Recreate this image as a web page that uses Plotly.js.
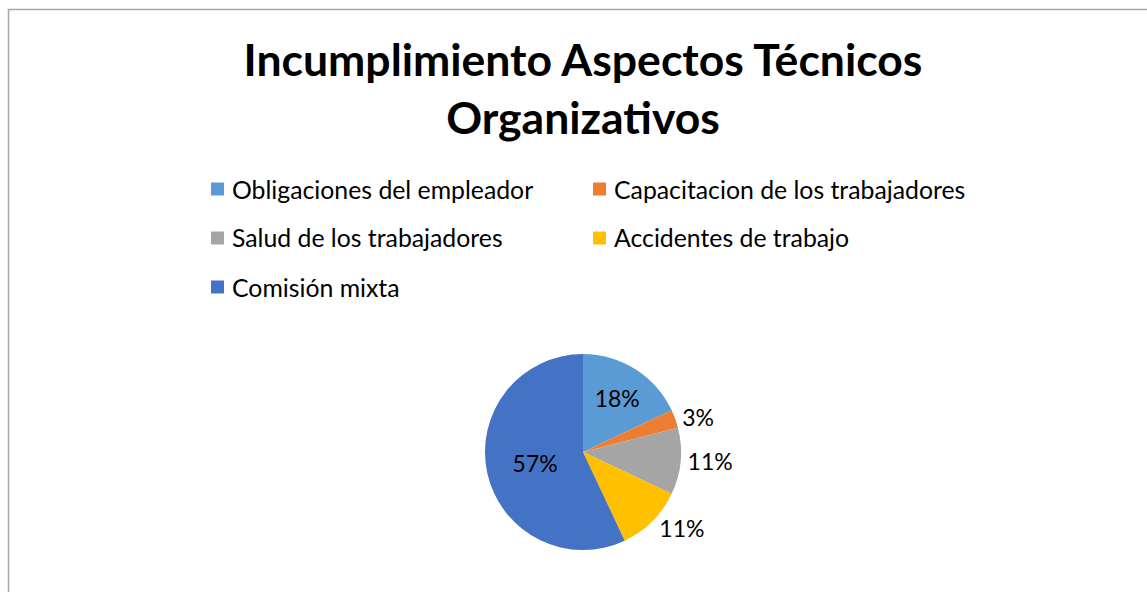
<!DOCTYPE html>
<html>
<head>
<meta charset="utf-8">
<script src="https://cdn.plot.ly/plotly-3.0.1.min.js"></script>
<style>html,body{margin:0;padding:0;background:#fff;}#chart{width:1147px;height:592px;}</style>
</head>
<body>
<div id="chart"></div>
<script>
var chartTitle = "Incumplimiento Aspectos Técnicos<br>Organizativos";
var categories = ["Obligaciones del empleador", "Capacitacion de los trabajadores", "Salud de los trabajadores", "Accidentes de trabajo", "Comisión mixta"];
var values = [18, 3, 11, 11, 57];
var colors = ["#5B9BD5", "#ED7D31", "#A5A5A5", "#FFC000", "#4472C4"];
var labelPositions = ["inside", "outside", "outside", "outside", "inside"];

var W = 1147, H = 592;
var FONT = "Lato, 'Open Sans', sans-serif";

// pie geometry in pixels
var cx = 583, cy = 452, r = 98;

var trace = {
  type: "pie",
  labels: categories,
  values: values,
  sort: false,
  direction: "clockwise",
  rotation: 0,
  marker: { colors: colors, line: { color: "#ffffff", width: 0 } },
  textinfo: "percent",
  textposition: labelPositions,
  insidetextorientation: "horizontal",
  textfont: { family: FONT, size: 23, color: "#000000" },
  insidetextfont: { family: FONT, size: 23, color: "#000000" },
  outsidetextfont: { family: FONT, size: 23, color: "#000000" },
  showlegend: false,
  domain: { x: [(cx - r) / W, (cx + r) / W], y: [(H - cy - r) / H, (H - cy + r) / H] },
  hoverinfo: "label+percent"
};

// custom legend (two columns)
var legendCols = [211, 593];
var legendRows = [189, 238, 287];
var shapes = [{
  type: "rect", xref: "paper", yref: "paper",
  x0: 8.5 / W, x1: 1.05, y0: -0.05, y1: 1 - 9.5 / H,
  line: { color: "#a6a6a6", width: 1.5 }, fillcolor: "rgba(0,0,0,0)"
}];
var annotations = [];
categories.forEach(function (c, i) {
  var col = i % 2, row = Math.floor(i / 2);
  var x = legendCols[col], y = legendRows[row];
  shapes.push({
    type: "rect", xref: "paper", yref: "paper",
    x0: x / W, x1: (x + 13) / W, y0: 1 - (y + 6.5) / H, y1: 1 - (y - 6.5) / H,
    fillcolor: colors[i], line: { width: 0 }
  });
  annotations.push({
    xref: "paper", yref: "paper", x: (x + 19) / W, y: 1 - y / H,
    xanchor: "left", yanchor: "middle", showarrow: false,
    text: c, font: { family: FONT, size: 24.8, color: "#000000" }
  });
});

var layout = {
  width: W, height: H,
  margin: { l: 0, r: 0, t: 0, b: 0 },
  paper_bgcolor: "#ffffff",
  plot_bgcolor: "#ffffff",
  title: {
    text: chartTitle,
    font: { family: FONT, size: 44.5, color: "#000000", weight: "bold" },
    x: 583 / W, xanchor: "center", xref: "paper",
    y: 1 - 76 / H, yanchor: "top", yref: "paper"
  },
  showlegend: false,
  shapes: shapes,
  annotations: annotations
};

Plotly.newPlot("chart", [trace], layout, { displayModeBar: false, staticPlot: true });
</script>
</body>
</html>
